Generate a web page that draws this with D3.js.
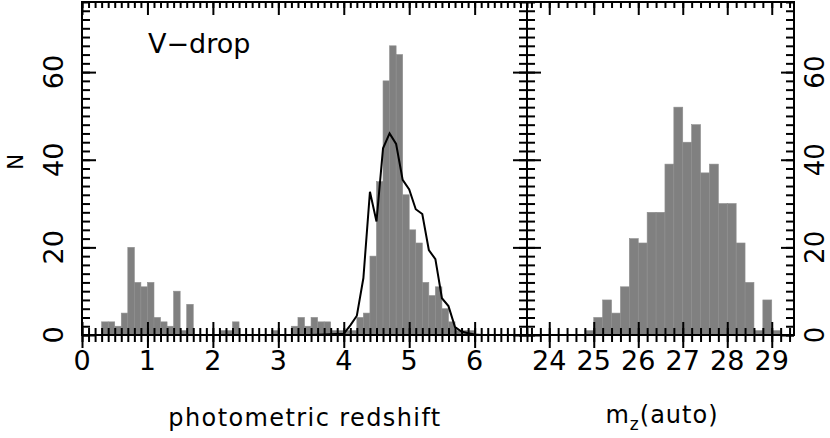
<!DOCTYPE html>
<html>
<head>
<meta charset="utf-8">
<script src="https://cdn.jsdelivr.net/npm/d3@7"></script>
<style>
  body { margin: 0; background: #fff; }
  text { font-family: "DejaVu Sans", sans-serif; fill: #000; }
</style>
</head>
<body>
<div id="chart"></div>
<script>
var svgWidth = 830;
var svgHeight = 438;

// photometric redshift histogram: lower bin edge (bin width 0.1) and counts
var zBinLo = [0.3, 0.4, 0.5, 0.6, 0.7, 0.8, 0.9, 1.0, 1.1, 1.2, 1.3, 1.4, 1.5, 1.6,
              2.1, 2.2, 2.3, 2.9, 3.2, 3.3, 3.4, 3.5, 3.6, 3.7, 3.8, 3.9,
              4.0, 4.1, 4.2, 4.3, 4.4, 4.5, 4.6, 4.7, 4.8, 4.9, 5.0, 5.1, 5.2,
              5.3, 5.4, 5.5, 5.6, 5.7, 5.8, 5.9];
var zCounts = [3, 3, 2, 5, 20, 12, 11, 12, 4, 3, 2, 10, 1, 7,
               1, 1, 3, 1, 2, 4, 2, 4, 3, 3, 1, 1,
               1, 1, 4, 5, 18, 35, 58, 66, 64, 32, 24, 21, 12,
               9, 11, 6, 3, 1, 1, 1];
var zBinWidth = 0.1;

// model curve over the redshift histogram
var curveZ = [3.0, 3.5, 3.9, 4.0, 4.1, 4.2, 4.3, 4.4, 4.5, 4.6, 4.7, 4.8, 4.9, 5.0,
              5.1, 5.2, 5.3, 5.4, 5.5, 5.6, 5.7, 5.8, 5.9, 6.0, 6.1, 6.8];
var curveN = [0, 0, 0.2, 0.3, 2.2, 4.4, 13, 32.7, 25.9, 42.6, 46, 43.6, 35.4, 33.2,
              28.7, 27.6, 19.4, 17.3, 8.4, 6.6, 1.8, 0.8, 0.4, 0.1, 0, 0];

// m_z(auto) histogram: lower bin edge (bin width 0.2) and counts
var mBinLo = [24.8, 25.0, 25.2, 25.4, 25.6, 25.8, 26.0, 26.2, 26.4, 26.6, 26.8,
              27.0, 27.2, 27.4, 27.6, 27.8, 28.0, 28.2, 28.4, 28.6, 28.8, 29.0];
var mCounts = [1, 4, 8, 5, 11, 22, 21, 28, 28, 39, 52,
               44, 48, 37, 39, 30, 30, 21, 12, 1, 8, 1];
var mBinWidth = 0.2;

var zTickLabels = [0, 1, 2, 3, 4, 5, 6];
var mTickLabels = [24, 25, 26, 27, 28, 29];
var nTickLabels = [0, 20, 40, 60];

var plotTop = 2, plotBottom = 335;
var leftX = 82, midX = 527, rightX = 794;

var svg = d3.select("#chart")
    .append("svg")
    .attr("width", svgWidth)
    .attr("height", svgHeight);

var yScale = d3.scaleLinear().domain([0, 76]).range([plotBottom, plotTop]);
var zScale = d3.scaleLinear().domain([0, 6.8]).range([leftX, midX]);
var mScale = d3.scaleLinear().domain([23.5, 29.5]).range([midX, rightX]);

function steps(a, b, s) {
    return d3.range(Math.round(a / s), Math.round(b / s) + 1).map(function(i) { return +(i * s).toFixed(3); });
}

// bars
function bars(lo, counts, w, xs) {
    svg.append("g").selectAll("rect")
        .data(lo)
        .enter()
        .append("rect")
        .attr("x", function(d) { return xs(d); })
        .attr("width", function(d) { return xs(d + w) - xs(d); })
        .attr("y", function(d, i) { return yScale(counts[i]); })
        .attr("height", function(d, i) { return yScale(0) - yScale(counts[i]); })
        .attr("fill", "#808080")
        .attr("stroke", "#8e8e8e")
        .attr("stroke-width", 0.6);
}
bars(zBinLo, zCounts, zBinWidth, zScale);
bars(mBinLo, mCounts, mBinWidth, mScale);

// curve
var line = d3.line()
    .x(function(d) { return zScale(d); })
    .y(function(d, i) { return yScale(curveN[i]); });
svg.append("path")
    .datum(curveZ)
    .attr("d", line)
    .attr("fill", "none")
    .attr("stroke", "#000")
    .attr("stroke-width", 2);

// ticks drawn with d3 axes, domain line removed
function tickGroup(axisFn, scale, values, size, tx, ty) {
    var g = svg.append("g")
        .attr("transform", "translate(" + tx + "," + ty + ")")
        .call(axisFn(scale).tickValues(values).tickSize(size).tickFormat(""));
    g.select(".domain").remove();
    g.selectAll("line").attr("stroke", "#000").attr("stroke-width", 2);
    return g;
}

var zMinor = steps(0, 6.8, 0.1);
var mMinor = steps(23.6, 29.4, 0.2);
var nMinor = steps(0, 76, 2);
var nMajor = [0, 20, 40, 60];

// bottom axes, ticks cross the axis
tickGroup(d3.axisBottom, zScale, zMinor, 7, 0, plotBottom);
tickGroup(d3.axisTop, zScale, zMinor, 7, 0, plotBottom);
tickGroup(d3.axisBottom, zScale, zTickLabels, 13, 0, plotBottom);
tickGroup(d3.axisTop, zScale, zTickLabels, 13, 0, plotBottom);
tickGroup(d3.axisBottom, mScale, mMinor, 7, 0, plotBottom);
tickGroup(d3.axisTop, mScale, mMinor, 7, 0, plotBottom);
tickGroup(d3.axisBottom, mScale, mTickLabels, 13, 0, plotBottom);
tickGroup(d3.axisTop, mScale, mTickLabels, 13, 0, plotBottom);

// top axes, inward
tickGroup(d3.axisBottom, zScale, zMinor, 6, 0, plotTop);
tickGroup(d3.axisBottom, zScale, zTickLabels, 13, 0, plotTop);
tickGroup(d3.axisBottom, mScale, mMinor, 6, 0, plotTop);
tickGroup(d3.axisBottom, mScale, mTickLabels, 13, 0, plotTop);

// left axis inward
tickGroup(d3.axisRight, yScale, nMinor, 8, leftX, 0);
tickGroup(d3.axisRight, yScale, nMajor, 14, leftX, 0);
// separator, both sides
tickGroup(d3.axisRight, yScale, nMinor, 8, midX, 0);
tickGroup(d3.axisLeft, yScale, nMinor, 8, midX, 0);
tickGroup(d3.axisRight, yScale, nMajor, 14, midX, 0);
tickGroup(d3.axisLeft, yScale, nMajor, 14, midX, 0);
// right axis inward
tickGroup(d3.axisLeft, yScale, nMinor, 8, rightX, 0);
tickGroup(d3.axisLeft, yScale, nMajor, 13, rightX, 0);

// frame
svg.append("rect")
    .attr("x", leftX).attr("y", plotTop)
    .attr("width", rightX - leftX).attr("height", plotBottom - plotTop)
    .attr("fill", "none").attr("stroke", "#000").attr("stroke-width", 2);
svg.append("line")
    .attr("x1", midX).attr("x2", midX).attr("y1", plotTop).attr("y2", plotBottom)
    .attr("stroke", "#000").attr("stroke-width", 2);

// tick labels
svg.append("g").selectAll("text")
    .data(zTickLabels)
    .enter()
    .append("text")
    .attr("x", function(d) { return zScale(d); })
    .attr("y", 370)
    .attr("text-anchor", "middle")
    .style("font-size", "27px")
    .text(function(d) { return d; });

svg.append("g").selectAll("text")
    .data(mTickLabels)
    .enter()
    .append("text")
    .attr("x", function(d) { return mScale(d); })
    .attr("y", 370)
    .attr("text-anchor", "middle")
    .style("font-size", "27px")
    .text(function(d) { return d; });

svg.append("g").selectAll("text")
    .data(nTickLabels)
    .enter()
    .append("text")
    .attr("transform", function(d) { return "translate(63," + yScale(d) + ") rotate(-90)"; })
    .attr("text-anchor", "middle")
    .style("font-size", "27px")
    .text(function(d) { return d; });

svg.append("g").selectAll("text")
    .data(nTickLabels)
    .enter()
    .append("text")
    .attr("transform", function(d) { return "translate(824," + yScale(d) + ") rotate(-90)"; })
    .attr("text-anchor", "middle")
    .style("font-size", "26px")
    .text(function(d) { return d; });

// axis titles
svg.append("text")
    .attr("transform", "translate(23,162) rotate(-90)")
    .attr("text-anchor", "middle")
    .style("font-size", "21px")
    .text("N");

svg.append("text")
    .attr("x", 305)
    .attr("y", 426)
    .attr("text-anchor", "middle")
    .style("font-size", "24px")
    .style("letter-spacing", "1.4px")
    .text("photometric redshift");

var mt = svg.append("text")
    .attr("x", 662)
    .attr("y", 423)
    .attr("text-anchor", "middle")
    .style("font-size", "24px")
    .style("letter-spacing", "1px");
mt.append("tspan").text("m");
mt.append("tspan").attr("dy", 7).style("font-size", "17px").text("z");
mt.append("tspan").attr("dy", -7).text("(auto)");

svg.append("text")
    .attr("x", 148)
    .attr("y", 53)
    .style("font-size", "27px")
    .text("V\u2212drop");
</script>
</body>
</html>
